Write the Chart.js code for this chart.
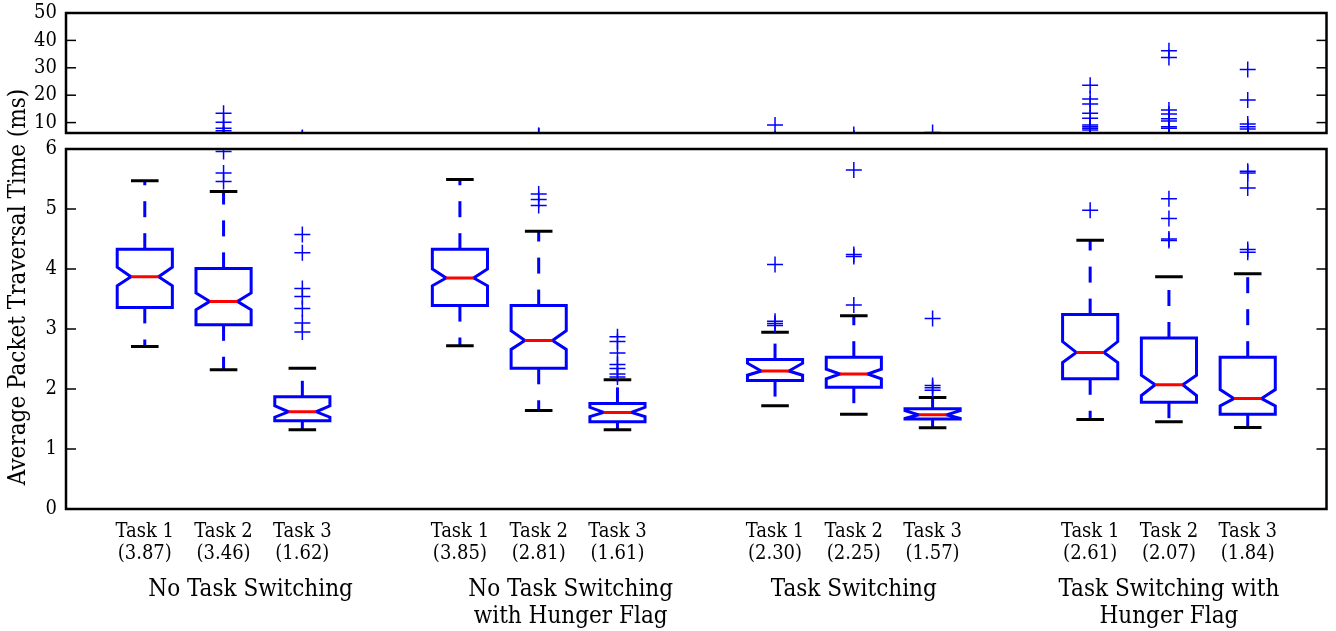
<!DOCTYPE html>
<html>
<head>
<meta charset="utf-8">
<script src="https://cdn.jsdelivr.net/npm/chart.js@4.4.1/dist/chart.umd.min.js"></script>
<style>
  html, body { margin: 0; padding: 0; background: #fff; }
  #wrap { position: relative; width: 1336px; height: 631px; overflow: hidden; }
  #wrap canvas { position: absolute; left: 0; }
  #topChart { top: -20px; }
  #bottomChart { top: 0; }
</style>
</head>
<body>
<div id="wrap">
  <canvas id="topChart" width="1336" height="185"></canvas>
  <canvas id="bottomChart" width="1336" height="631"></canvas>
</div>
<script>
// data
const tasks = ["Task 1", "Task 2", "Task 3"];
const groups = [
  ["No Task Switching"],
  ["No Task Switching", "with Hunger Flag"],
  ["Task Switching"],
  ["Task Switching with", "Hunger Flag"]
];
const positions = [1, 2, 3, 5, 6, 7, 9, 10, 11, 13, 14, 15];
const medians = [3.87, 3.46, 1.62, 3.85, 2.81, 1.61, 2.30, 2.25, 1.57, 2.61, 2.07, 1.84];
const q1 = [3.36, 3.07, 1.47, 3.39, 2.345, 1.455, 2.14, 2.03, 1.50, 2.17, 1.78, 1.58];
const q3 = [4.33, 4.01, 1.87, 4.33, 3.39, 1.76, 2.49, 2.53, 1.67, 3.24, 2.85, 2.53];
const notchLo = [3.72, 3.32, 1.53, 3.72, 2.66, 1.54, 2.23, 2.17, 1.51, 2.44, 1.89, 1.72];
const notchHi = [4.03, 3.60, 1.72, 4.00, 2.97, 1.695, 2.43, 2.33, 1.64, 2.79, 2.23, 1.99];
const whiskLo = [2.71, 2.32, 1.32, 2.72, 1.64, 1.32, 1.72, 1.58, 1.355, 1.49, 1.455, 1.36];
const whiskHi = [5.47, 5.29, 2.345, 5.49, 4.63, 2.155, 2.945, 3.22, 1.86, 4.48, 3.87, 3.92];
const fliers = [
  [],
  [5.46, 5.60, 5.96, 7.0, 7.9, 10.1, 13.4],
  [2.95, 3.10, 3.34, 3.54, 3.675, 4.27, 4.575],
  [],
  [5.06, 5.16, 5.25],
  [2.20, 2.25, 2.34, 2.41, 2.60, 2.79, 2.87],
  [3.06, 3.09, 3.13, 4.075, 9.1],
  [3.40, 4.21, 4.24, 5.65],
  [1.98, 2.02, 2.06, 3.175, 6.4],
  [4.98, 7.3, 7.9, 8.5, 9.1, 11.6, 13.4, 16.8, 18.6, 23.6],
  [4.475, 4.50, 4.84, 5.17, 7.9, 8.5, 10.6, 11.4, 13.1, 14.6, 33.8, 36.2],
  [4.28, 4.325, 5.35, 5.60, 5.63, 7.7, 8.5, 9.5, 18.2, 29.4]
];
const topTicks = [10, 20, 30, 40, 50];
const bottomTicks = [0, 1, 2, 3, 4, 5, 6];
const yTitle = "Average Packet Traversal Time (ms)";

const BLUE = "#0000ff";
const RED = "#ff0000";
const SERIF = "'DejaVu Serif Condensed', 'DejaVu Serif', serif";

Chart.defaults.font.family = SERIF;
Chart.defaults.font.size = 20;
Chart.defaults.color = "#000";

function line(ctx, x1, y1, x2, y2) {
  ctx.beginPath();
  ctx.moveTo(x1, y1);
  ctx.lineTo(x2, y2);
  ctx.stroke();
}

// notched boxes, drawn through the chart's own scales
const boxPlugin = {
  id: "boxes",
  beforeDatasetsDraw(chart) {
    const { ctx, chartArea: a, scales: { x, y } } = chart;
    ctx.save();
    ctx.beginPath();
    ctx.rect(a.left, a.top, a.right - a.left, a.bottom - a.top);
    ctx.clip();
    ctx.lineWidth = 3;
    ctx.lineJoin = "miter";
    positions.forEach((p, i) => {
      const cx = x.getPixelForValue(p);
      const hw = x.getPixelForValue(p + 0.35) - cx;
      const nw = hw / 2;
      const Y = (v) => y.getPixelForValue(v);

      ctx.strokeStyle = BLUE;
      ctx.setLineDash([16, 16]);
      line(ctx, cx, Y(q3[i]), cx, Y(whiskHi[i]));
      line(ctx, cx, Y(q1[i]), cx, Y(whiskLo[i]));
      ctx.setLineDash([]);

      ctx.strokeStyle = "#000";
      line(ctx, cx - nw, Y(whiskHi[i]), cx + nw, Y(whiskHi[i]));
      line(ctx, cx - nw, Y(whiskLo[i]), cx + nw, Y(whiskLo[i]));

      const l = cx - hw, r = cx + hw;
      ctx.strokeStyle = BLUE;
      ctx.beginPath();
      ctx.moveTo(l, Y(q1[i]));
      ctx.lineTo(r, Y(q1[i]));
      ctx.lineTo(r, Y(notchLo[i]));
      ctx.lineTo(cx + nw, Y(medians[i]));
      ctx.lineTo(r, Y(notchHi[i]));
      ctx.lineTo(r, Y(q3[i]));
      ctx.lineTo(l, Y(q3[i]));
      ctx.lineTo(l, Y(notchHi[i]));
      ctx.lineTo(cx - nw, Y(medians[i]));
      ctx.lineTo(l, Y(notchLo[i]));
      ctx.closePath();
      ctx.stroke();

      ctx.strokeStyle = RED;
      line(ctx, cx - nw, Y(medians[i]), cx + nw, Y(medians[i]));
    });
    ctx.restore();
  }
};

// axes frame with inward ticks on both sides
const framePlugin = {
  id: "frame",
  afterDraw(chart) {
    const { ctx, chartArea: a, scales: { y } } = chart;
    ctx.save();
    ctx.strokeStyle = "#000";
    ctx.lineWidth = 1.5;
    y.ticks.forEach((t) => {
      const py = y.getPixelForValue(t.value);
      line(ctx, a.left, py, a.left + 10, py);
      line(ctx, a.right - 10, py, a.right, py);
    });
    ctx.lineWidth = 2.5;
    ctx.strokeRect(a.left, a.top, a.right - a.left, a.bottom - a.top);
    ctx.restore();
  }
};

// group captions under the task labels and the shared y title
const labelPlugin = {
  id: "groupLabels",
  afterDraw(chart) {
    const { ctx, scales: { x } } = chart;
    const nudge = [27, 32, 0, 0];
    ctx.save();
    ctx.fillStyle = "#000";
    ctx.font = "24px " + SERIF;
    ctx.textAlign = "center";
    ctx.textBaseline = "middle";
    groups.forEach((g, gi) => {
      const cx = x.getPixelForValue(positions[gi * 3 + 1]) + nudge[gi];
      g.forEach((txt, li) => ctx.fillText(txt, cx, 590 + li * 27));
    });
    ctx.translate(19, 287);
    ctx.rotate(-Math.PI / 2);
    ctx.fillText(yTitle, 0, 0);
    ctx.restore();
  }
};

function flierPoints() {
  return fliers.flatMap((f, i) => f.map((v) => ({ x: positions[i], y: v })));
}

function makeChart(id, opts) {
  const el = document.getElementById(id);
  return new Chart(el, {
    type: "scatter",
    data: {
      datasets: [
        {
          data: flierPoints(),
          pointStyle: "cross",
          radius: 8,
          hoverRadius: 8,
          borderColor: BLUE,
          backgroundColor: BLUE,
          borderWidth: 1.5,
          clip: 0
        }
      ]
    },
    options: {
      responsive: false,
      animation: false,
      events: [],
      layout: { padding: { left: 0, right: 3, top: opts.top, bottom: 0 } },
      plugins: { legend: { display: false }, tooltip: { enabled: false } },
      scales: {
        x: {
          type: "linear",
          min: 0,
          max: 16,
          grid: { display: false, drawTicks: false },
          border: { display: false },
          afterBuildTicks: (s) => { s.ticks = positions.map((v) => ({ value: v })); },
          afterFit: (s) => { s.height = opts.xHeight; },
          ticks: {
            display: opts.xLabels,
            padding: 12,
            maxRotation: 0,
            autoSkip: false,
            font: { lineHeight: 1.1 },
            callback: (v) => {
              const i = positions.indexOf(v);
              return [tasks[i % 3], "(" + medians[i].toFixed(2) + ")"];
            }
          }
        },
        y: {
          type: "linear",
          min: opts.min,
          max: opts.max,
          grid: { display: false, drawTicks: false },
          border: { display: false },
          afterBuildTicks: (s) => { s.ticks = opts.ticks.map((v) => ({ value: v })); },
          afterFit: (s) => { s.width = 66; },
          ticks: { padding: 9 }
        }
      }
    },
    plugins: opts.plugins
  });
}

// top canvas sits 20px above the page, so its plot area spans 13..133 on screen
makeChart("topChart", {
  top: 33, xHeight: 32, xLabels: false,
  min: 6.2, max: 50, ticks: topTicks,
  plugins: [boxPlugin, framePlugin]
});

makeChart("bottomChart", {
  top: 149, xHeight: 122, xLabels: true,
  min: 0, max: 6, ticks: bottomTicks,
  plugins: [boxPlugin, framePlugin, labelPlugin]
});
</script>
</body>
</html>
